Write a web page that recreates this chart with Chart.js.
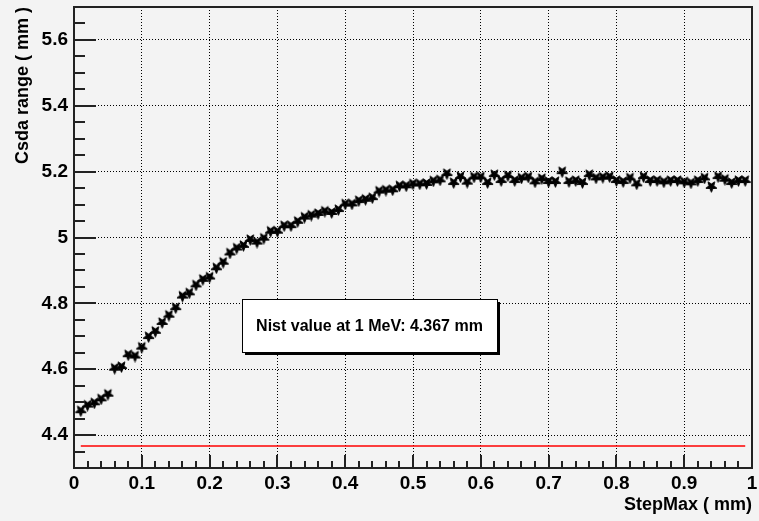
<!DOCTYPE html>
<html lang="en">
<head>
    <meta charset="UTF-8">
    <title>Csda range vs StepMax</title>
    <script src="https://cdn.jsdelivr.net/npm/chart.js"></script>
    <style>
        html, body {
            margin: 0;
            padding: 0;
            background: #f3f3f3;
        }
        #chart {
            display: block;
        }
    </style>
</head>
<body>
    <canvas id="chart" width="759" height="521"></canvas>

    <script>
        // StepMax values (mm)
        const stepMax = [
            0.01, 0.02, 0.03, 0.04, 0.05, 0.06, 0.07, 0.08, 0.09, 0.10,
            0.11, 0.12, 0.13, 0.14, 0.15, 0.16, 0.17, 0.18, 0.19, 0.20,
            0.21, 0.22, 0.23, 0.24, 0.25, 0.26, 0.27, 0.28, 0.29, 0.30,
            0.31, 0.32, 0.33, 0.34, 0.35, 0.36, 0.37, 0.38, 0.39, 0.40,
            0.41, 0.42, 0.43, 0.44, 0.45, 0.46, 0.47, 0.48, 0.49, 0.50,
            0.51, 0.52, 0.53, 0.54, 0.55, 0.56, 0.57, 0.58, 0.59, 0.60,
            0.61, 0.62, 0.63, 0.64, 0.65, 0.66, 0.67, 0.68, 0.69, 0.70,
            0.71, 0.72, 0.73, 0.74, 0.75, 0.76, 0.77, 0.78, 0.79, 0.80,
            0.81, 0.82, 0.83, 0.84, 0.85, 0.86, 0.87, 0.88, 0.89, 0.90,
            0.91, 0.92, 0.93, 0.94, 0.95, 0.96, 0.97, 0.98, 0.99
        ];
        // Csda range values (mm)
        const csdaRange = [
            4.474, 4.491, 4.498, 4.510, 4.524, 4.603, 4.608, 4.644, 4.640, 4.667,
            4.699, 4.715, 4.742, 4.764, 4.787, 4.822, 4.832, 4.856, 4.873, 4.880,
            4.908, 4.925, 4.953, 4.968, 4.976, 4.994, 4.986, 4.998, 5.019, 5.019,
            5.036, 5.036, 5.049, 5.062, 5.068, 5.073, 5.080, 5.076, 5.085, 5.102,
            5.102, 5.112, 5.116, 5.121, 5.141, 5.144, 5.145, 5.157, 5.157, 5.163,
            5.163, 5.164, 5.172, 5.175, 5.194, 5.167, 5.185, 5.168, 5.184, 5.184,
            5.167, 5.191, 5.173, 5.188, 5.173, 5.181, 5.184, 5.169, 5.179, 5.170,
            5.170, 5.200, 5.170, 5.173, 5.167, 5.191, 5.181, 5.183, 5.185, 5.173,
            5.170, 5.181, 5.163, 5.185, 5.173, 5.173, 5.169, 5.173, 5.173, 5.169,
            5.166, 5.173, 5.181, 5.155, 5.185, 5.177, 5.167, 5.173, 5.173
        ];
        // NIST reference line
        const nistValue = 4.367;
        const nistRange = [0.01, 0.99];
        const nistText = "Nist value at 1 MeV: 4.367 mm";

        // axes
        const xTicks = [0, 0.1, 0.2, 0.3, 0.4, 0.5, 0.6, 0.7, 0.8, 0.9, 1];
        const xTickLabels = ["0", "0.1", "0.2", "0.3", "0.4", "0.5", "0.6", "0.7", "0.8", "0.9", "1"];
        const yTicks = [4.4, 4.6, 4.8, 5.0, 5.2, 5.4, 5.6];
        const yTickLabels = ["4.4", "4.6", "4.8", "5", "5.2", "5.4", "5.6"];
        const xMinorTicks = [0.02, 0.04, 0.06, 0.08, 0.12, 0.14, 0.16, 0.18, 0.22, 0.24, 0.26, 0.28, 0.32, 0.34, 0.36, 0.38, 0.42, 0.44, 0.46, 0.48, 0.52, 0.54, 0.56, 0.58, 0.62, 0.64, 0.66, 0.68, 0.72, 0.74, 0.76, 0.78, 0.82, 0.84, 0.86, 0.88, 0.92, 0.94, 0.96, 0.98];
        const yMinorTicks = [4.35, 4.45, 4.5, 4.55, 4.65, 4.7, 4.75, 4.85, 4.9, 4.95, 5.05, 5.1, 5.15, 5.25, 5.3, 5.35, 5.45, 5.5, 5.55, 5.65];
        const xRange = [0, 1];
        const yRange = [4.3, 5.7];

        const FONT = "'Liberation Sans', Arial, Helvetica, sans-serif";

        // little star marker, point down, like the ROOT one
        function makeMarker() {
            const c = document.createElement("canvas");
            c.width = 13;
            c.height = 13;
            const g = c.getContext("2d");
            g.fillStyle = "#000";
            g.strokeStyle = "#000";
            g.lineWidth = 1;
            g.beginPath();
            for (let i = 0; i < 10; i++) {
                const r = i % 2 === 0 ? 5.8 : 2.5;
                const a = Math.PI / 2 + i * Math.PI / 5;
                const px = 6.5 + r * Math.cos(a);
                const py = 6.5 + r * Math.sin(a);
                if (i === 0) g.moveTo(px, py); else g.lineTo(px, py);
            }
            g.closePath();
            g.fill();
            g.stroke();
            return c;
        }

        // frame, inside ticks and the text box
        const rootStyle = {
            id: "rootStyle",
            afterDraw(chart) {
                const ctx = chart.ctx;
                const a = chart.chartArea;
                const xs = chart.scales.x;
                const ys = chart.scales.y;
                const L = Math.round(a.left), R = Math.round(a.right);
                const T = Math.round(a.top), B = Math.round(a.bottom);
                ctx.save();
                ctx.fillStyle = "#222";
                // frame
                ctx.fillRect(L - 1, T - 1, R - L + 2, 2);
                ctx.fillRect(L - 1, B - 1, R - L + 2, 2);
                ctx.fillRect(L - 1, T - 1, 2, B - T + 2);
                ctx.fillRect(R - 1, T - 1, 2, B - T + 2);

                // x ticks (inside): majors long, minors short
                for (const v of xTicks) {
                    const px = Math.round(xs.getPixelForValue(v));
                    ctx.fillRect(px - 1, B - 13, 2, 13);
                }
                for (const v of xMinorTicks) {
                    const px = Math.round(xs.getPixelForValue(v));
                    ctx.fillRect(px - 1, B - 7, 2, 7);
                }
                // y ticks (inside)
                for (const v of yTicks) {
                    const py = Math.round(ys.getPixelForValue(v));
                    ctx.fillRect(L, py - 1, 22, 2);
                }
                for (const v of yMinorTicks) {
                    const py = Math.round(ys.getPixelForValue(v));
                    ctx.fillRect(L, py - 1, 11, 2);
                }

                // text box with shadow
                const bx1 = Math.round(xs.getPixelForValue(0.248));
                const bx2 = Math.round(xs.getPixelForValue(0.624));
                const by1 = Math.round(ys.getPixelForValue(4.814));
                const by2 = Math.round(ys.getPixelForValue(4.651));
                ctx.fillStyle = "#000";
                ctx.fillRect(bx1 + 3, by1 + 3, bx2 - bx1, by2 - by1);
                ctx.fillStyle = "#fff";
                ctx.fillRect(bx1, by1, bx2 - bx1, by2 - by1);
                ctx.strokeStyle = "#000";
                ctx.lineWidth = 1;
                ctx.setLineDash([]);
                ctx.strokeRect(bx1 + 0.5, by1 + 0.5, bx2 - bx1, by2 - by1);
                ctx.fillStyle = "#000";
                ctx.font = "bold 16px " + FONT;
                ctx.textAlign = "center";
                ctx.textBaseline = "middle";
                ctx.fillText(nistText, (bx1 + bx2) / 2, (by1 + by2) / 2 + 1);
                ctx.restore();
            }
        };

        const points = stepMax.map((x, i) => ({ x: x, y: csdaRange[i] }));

        new Chart(document.getElementById("chart"), {
            type: "scatter",
            data: {
                datasets: [{
                    label: "Csda range",
                    data: points,
                    pointStyle: makeMarker(),
                    pointRadius: 6,
                    showLine: false
                }, {
                    label: "Nist",
                    data: nistRange.map(x => ({ x: x, y: nistValue })),
                    showLine: true,
                    borderColor: "#ff0000",
                    borderWidth: 1.5,
                    pointRadius: 0
                }]
            },
            options: {
                responsive: false,
                animation: false,
                devicePixelRatio: 1,
                layout: { padding: { top: 6, right: 3, left: 0, bottom: 0 } },
                plugins: {
                    legend: { display: false },
                    tooltip: { enabled: false }
                },
                scales: {
                    x: {
                        type: "linear",
                        min: xRange[0],
                        max: xRange[1],
                        afterBuildTicks: s => { s.ticks = xTicks.map(v => ({ value: v })); },
                        afterFit: s => { s.height = 53; s.paddingLeft = 0; s.paddingRight = 0; },
                        grid: { color: "#000", lineWidth: 1, drawTicks: false },
                        border: { display: false, dash: [1, 2] },
                        ticks: {
                            autoSkip: false,
                            maxRotation: 0,
                            padding: 4,
                            color: "#000",
                            font: { family: FONT, size: 19, weight: "bold" },
                            callback: (v, i) => xTickLabels[i]
                        },
                        title: {
                            display: true,
                            text: "StepMax ( mm)",
                            align: "end",
                            color: "#000",
                            font: { family: FONT, size: 18, weight: "bold" },
                            padding: { top: 0, bottom: 5 }
                        }
                    },
                    y: {
                        type: "linear",
                        min: yRange[0],
                        max: yRange[1],
                        afterBuildTicks: s => { s.ticks = yTicks.map(v => ({ value: v })); },
                        afterFit: s => { s.width = 74; s.paddingTop = 0; s.paddingBottom = 0; },
                        grid: { color: "#000", lineWidth: 1, drawTicks: false },
                        border: { display: false, dash: [1, 2] },
                        ticks: {
                            padding: 6,
                            color: "#000",
                            font: { family: FONT, size: 19, weight: "bold" },
                            callback: (v, i) => yTickLabels[i]
                        },
                        title: {
                            display: true,
                            text: "Csda range ( mm )",
                            align: "end",
                            color: "#000",
                            font: { family: FONT, size: 18, weight: "bold" },
                            padding: { top: 12, bottom: 0 }
                        }
                    }
                }
            },
            plugins: [rootStyle]
        });
    </script>
</body>
</html>
